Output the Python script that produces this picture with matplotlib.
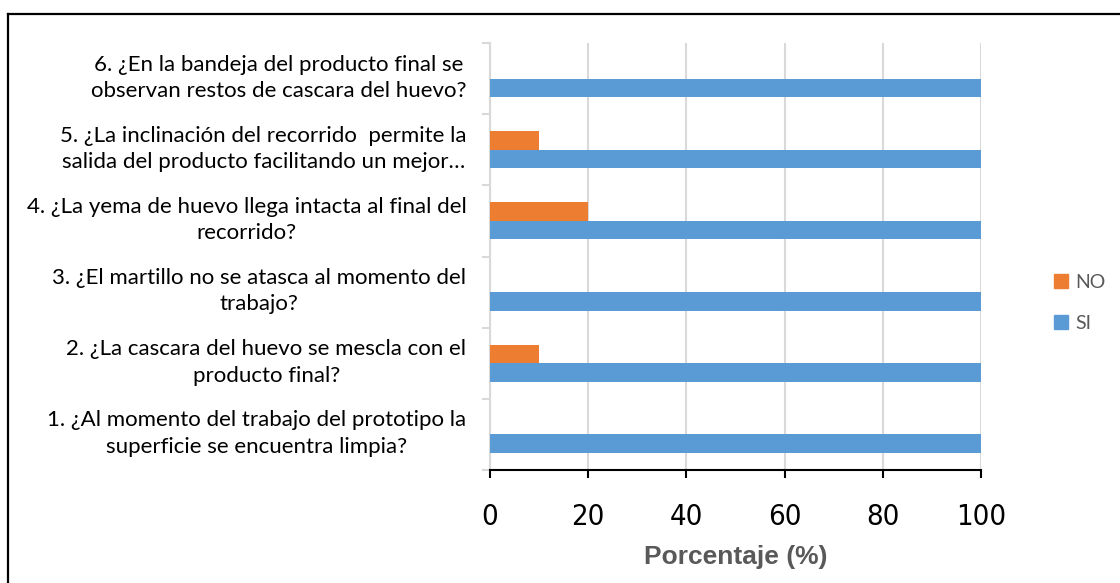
import matplotlib
matplotlib.use("Agg")
import matplotlib.pyplot as plt
import matplotlib.transforms as mtransforms
from matplotlib.lines import Line2D
from matplotlib.patches import Patch
import numpy as np

# datos de la encuesta
preguntas = [
    "1. ¿Al momento del trabajo del prototipo la\nsuperficie se encuentra limpia?",
    "2. ¿La cascara del huevo se mescla con el\nproducto final?",
    "3. ¿El martillo no se atasca al momento del\ntrabajo?",
    "4. ¿La yema de huevo llega intacta al final del\nrecorrido?",
    "5. ¿La inclinación del recorrido  permite la\nsalida del producto facilitando un mejor…",
    "6. ¿En la bandeja del producto final se\nobservan restos de cascara del huevo?",
]
si = [100, 100, 100, 100, 100, 100]
no = [0, 10, 0, 20, 10, 0]
xticks = [0, 20, 40, 60, 80, 100]

azul = "#5B9BD5"
naranja = "#ED7D31"
gris = "#D9D9D9"

fig = plt.figure(figsize=(11.2, 5.83), dpi=100)
ax = fig.add_axes([490 / 1120, 1 - 470 / 583, (981 - 490) / 1120, (470 - 43) / 583])

y = np.arange(len(preguntas))
h = 0.26
ax.barh(y - h / 2, si, height=h, color=azul, zorder=3)
ax.barh(y + h / 2, no, height=h, color=naranja, zorder=3)

ax.set_xlim(0, 100)
ax.set_ylim(-0.5, len(preguntas) - 0.5)
ax.set_xticks(xticks)
ax.set_xticklabels([str(t) for t in xticks], family="DejaVu Sans", fontstretch="condensed",
                   fontsize=21)
ax.tick_params(axis="x", length=6, width=1.5, color="black", pad=18)

ax.set_yticks(y)
ax.set_yticklabels(preguntas, family=["Lato", "DejaVu Sans"], fontsize=16,
                   multialignment="center", linespacing=1.4)
ax.tick_params(axis="y", length=0, pad=17)
ax.set_yticks(np.arange(-0.5, len(preguntas), 1), minor=True)
ax.tick_params(axis="y", which="minor", length=6, width=1.5, color=gris)

# subir un poco las etiquetas de las preguntas
subir = mtransforms.ScaledTranslation(0, 6 / 100, fig.dpi_scale_trans)
for lab in ax.get_yticklabels():
    lab.set_transform(lab.get_transform() + subir)

ax.grid(axis="x", color=gris, lw=1.5, zorder=0)
for s in ["top", "right"]:
    ax.spines[s].set_visible(False)
ax.spines["left"].set_color(gris)
ax.spines["left"].set_linewidth(1.5)
ax.spines["bottom"].set_color("black")
ax.spines["bottom"].set_linewidth(1.5)
ax.spines["bottom"].set_zorder(4)

ax.set_xlabel("Porcentaje (%)", family=["Liberation Sans", "DejaVu Sans"], fontsize=19,
              fontweight="bold", color="#595959", labelpad=10)

handles = [Patch(color=naranja, label="NO"), Patch(color=azul, label="SI")]
fig.legend(handles=handles, loc="center left", bbox_to_anchor=(1036 / 1120, 1 - 303 / 583),
           frameon=False, prop={"family": ["Lato", "DejaVu Sans"], "size": 14},
           labelcolor="#595959", handlelength=0.75, handleheight=0.75, labelspacing=1.25,
           handletextpad=0.35)

# marco recortado de la imagen original
fig.add_artist(Line2D([8 / 1120, 1.01], [1 - 14 / 583, 1 - 14 / 583], color="black", lw=1.6))
fig.add_artist(Line2D([8 / 1120, 8 / 1120], [-0.01, 1 - 14 / 583], color="black", lw=1.6))

fig.savefig("out.png", dpi=100)
